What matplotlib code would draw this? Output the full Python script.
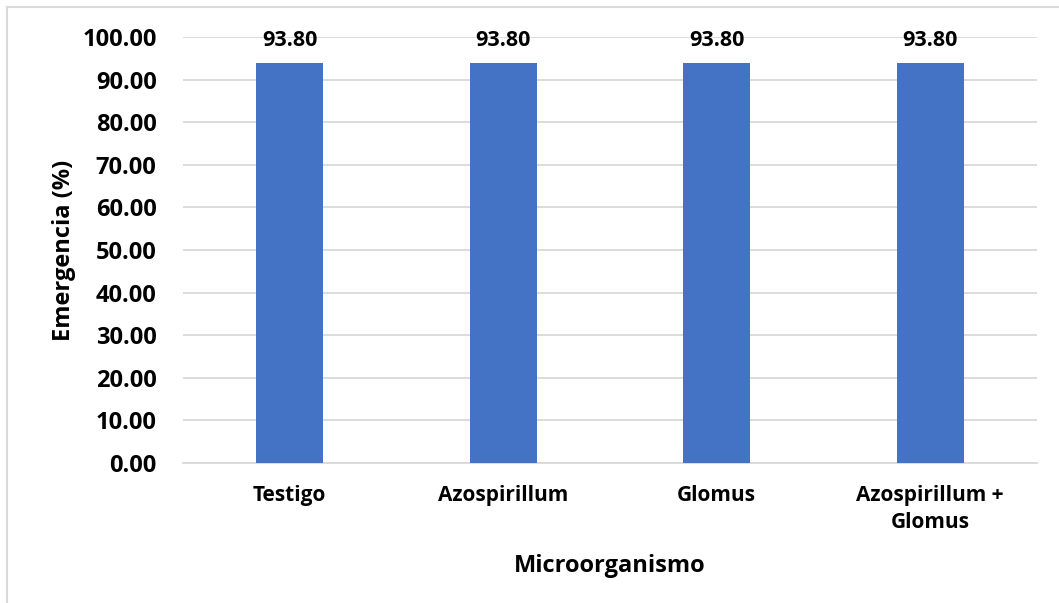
import matplotlib
matplotlib.use('Agg')
import matplotlib.pyplot as plt
from matplotlib.lines import Line2D

# Datos del gráfico
categorias = ['Testigo', 'Azospirillum', 'Glomus', 'Azospirillum +\nGlomus']
emergencia = [93.80, 93.80, 93.80, 93.80]
marcas_y = [0, 10, 20, 30, 40, 50, 60, 70, 80, 90, 100]

plt.rcParams['font.family'] = ['Open Sans', 'DejaVu Sans']
plt.rcParams['font.weight'] = 'bold'

fig = plt.figure(figsize=(10.59, 6.03), dpi=100)
ax = fig.add_axes([0.1728, 0.2322, 0.8064, 0.7064])

barras = ax.bar(range(len(categorias)), emergencia, width=0.315, color='#4472C4', zorder=3)
ax.bar_label(barras, labels=[f'{v:.2f}' for v in emergencia], padding=9,
             fontsize=15.5, fontweight='bold', color='black')

ax.set_ylim(0, 100)
ax.set_xlim(-0.5, len(categorias) - 0.5)
ax.set_yticks(marcas_y)
ax.set_yticklabels([f'{v:.2f}' for v in marcas_y])
ax.set_xticks(range(len(categorias)))
ax.set_xticklabels(categorias, linespacing=1.35)

ax.grid(axis='y', color='#d9d9d9', linewidth=1.3, zorder=0)
for lado in ['top', 'right', 'left']:
    ax.spines[lado].set_visible(False)
ax.spines['bottom'].set_color('#d9d9d9')
ax.spines['bottom'].set_linewidth(1.3)
ax.tick_params(axis='both', length=0)
ax.tick_params(axis='y', labelsize=17, pad=19)
ax.tick_params(axis='x', labelsize=15, pad=16)

ax.set_ylabel('Emergencia (%)', fontsize=17, fontweight='bold', labelpad=4.5)
ax.set_xlabel('Microorganismo', fontsize=17, fontweight='bold', labelpad=15)

# Borde del área del gráfico
fig.add_artist(Line2D([7 / 1059, 7 / 1059], [0, 1 - 7 / 603], transform=fig.transFigure,
                      color='#d9d9d9', linewidth=1.5))
fig.add_artist(Line2D([7 / 1059, 1], [1 - 7 / 603, 1 - 7 / 603], transform=fig.transFigure,
                      color='#d9d9d9', linewidth=1.5))

fig.savefig('out.png', dpi=100)
